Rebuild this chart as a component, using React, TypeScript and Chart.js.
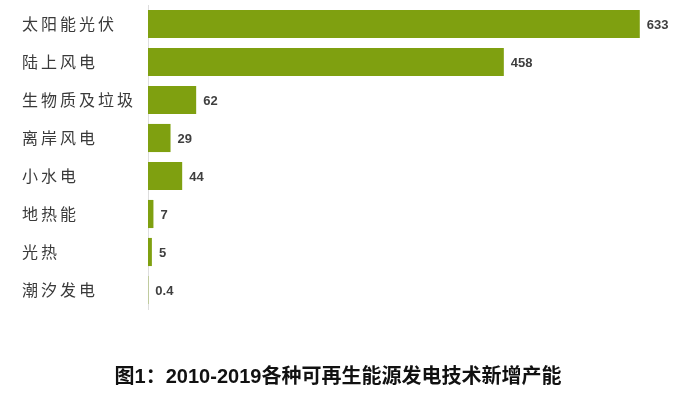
import React, { useEffect, useRef } from "react";
import { Chart, registerables } from "chart.js";

Chart.register(...registerables);

const categories = ["太阳能光伏", "陆上风电", "生物质及垃圾", "离岸风电", "小水电", "地热能", "光热", "潮汐发电"];
const values = [633, 458, 62, 29, 44, 7, 5, 0.4];
const valueLabels = ["633", "458", "62", "29", "44", "7", "5", "0.4"];
const titleText = "图1：2010-2019各种可再生能源发电技术新增产能";

const spacingPlugin = {
  id: "spacing",
  beforeDraw(chart: any) {
    (chart.ctx as any).letterSpacing = "3px";
  },
  beforeDatasetsDraw(chart: any) {
    (chart.ctx as any).letterSpacing = "0px";
  },
};

const valuePlugin = {
  id: "values",
  afterDatasetsDraw(chart: any) {
    const ctx = chart.ctx;
    const meta = chart.getDatasetMeta(0);
    ctx.save();
    (ctx as any).letterSpacing = "0px";
    ctx.font = "bold 13px 'Liberation Sans', Arial, sans-serif";
    ctx.fillStyle = "#3f3f3f";
    ctx.textAlign = "left";
    ctx.textBaseline = "middle";
    meta.data.forEach((el: any, i: number) => {
      ctx.fillText(valueLabels[i], el.x + 7, el.y + 1);
    });
    ctx.restore();
  },
};

export default function App() {
  const ref = useRef<HTMLCanvasElement>(null);
  useEffect(() => {
    const chart = new Chart(ref.current!, {
      type: "bar",
      data: {
        labels: categories,
        datasets: [
          {
            data: values,
            backgroundColor: "#7fa010",
            borderWidth: 0,
            categoryPercentage: 1,
            barPercentage: 0.74,
          },
        ],
      },
      options: {
        indexAxis: "y",
        animation: false,
        responsive: true,
        maintainAspectRatio: false,
        layout: { padding: { left: 22, top: 5, right: 27, bottom: 90 } },
        plugins: { legend: { display: false }, tooltip: { enabled: false }, title: { display: false } },
        scales: {
          x: { display: false, min: 0, max: 650 },
          y: {
            grid: { display: false },
            border: { display: true, color: "#dedede", width: 1 },
            ticks: {
              crossAlign: "far",
              color: "#3a3a3a",
              font: { size: 16, family: "'Noto Sans CJK SC', sans-serif" },
            },
            afterFit(scale: any) {
              scale.width = 126;
              scale.paddingTop = 0;
              scale.paddingBottom = 0;
            },
          },
        },
      },
      plugins: [spacingPlugin, valuePlugin],
    } as any);
    return () => chart.destroy();
  }, []);
  return (
    <div style={{ position: "absolute", left: 0, top: 0, width: 680, height: 399, background: "#fff" }}>
      <canvas ref={ref} />
      <div
        style={{
          position: "absolute",
          left: 0,
          width: 676,
          top: 364,
          textAlign: "center",
          fontFamily: "'Liberation Sans', 'Noto Sans CJK SC', sans-serif",
          fontWeight: "bold",
          fontSize: 20,
          color: "#111",
          lineHeight: "24px",
        }}
      >
        {titleText}
      </div>
    </div>
  );
}
